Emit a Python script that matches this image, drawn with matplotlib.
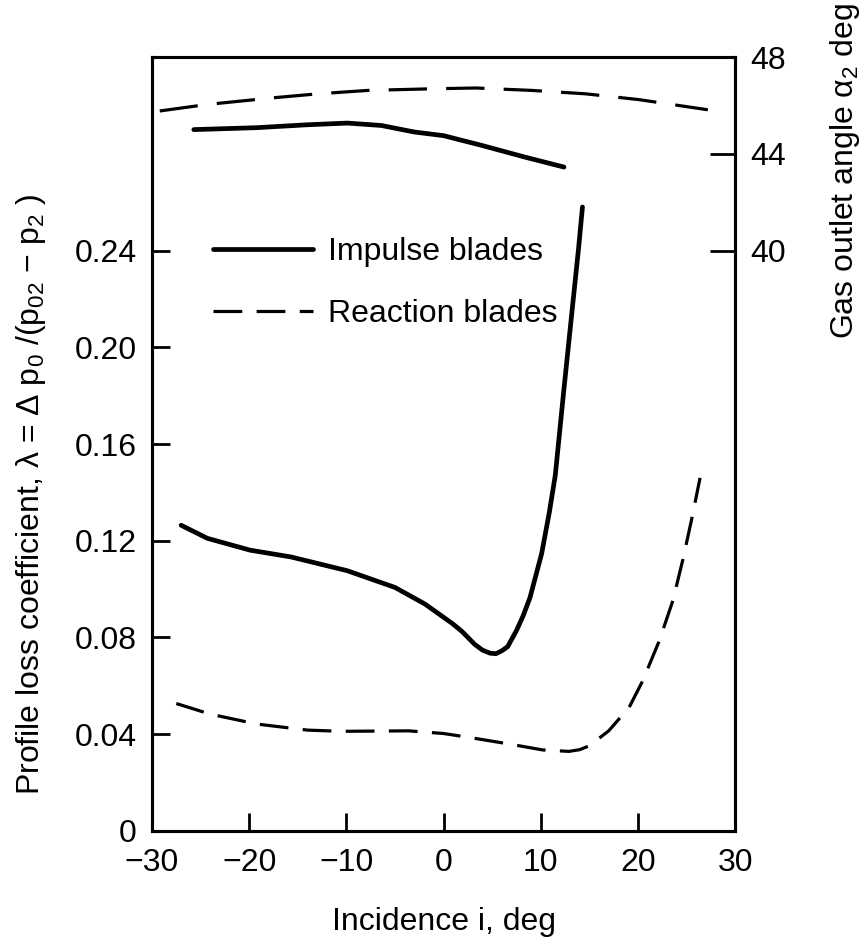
import matplotlib
matplotlib.use('Agg')
import matplotlib.pyplot as plt

# values
impulse_loss_x = [-27.0, -24.3, -19.9, -15.7, -9.9, -5.0, -1.9, 0.9, 1.9, 3.2, 4.0, 4.8, 5.4, 6.0, 6.6, 7.5, 8.2, 8.9, 10.1, 10.9, 11.5, 12.4, 13.2, 13.9, 14.3]
impulse_loss = [0.1264, 0.1210, 0.1161, 0.1133, 0.1076, 0.1007, 0.0938, 0.0858, 0.0825, 0.0772, 0.0748, 0.0735, 0.0733, 0.0745, 0.0762, 0.0828, 0.089, 0.0965, 0.1147, 0.132, 0.147, 0.183, 0.214, 0.241, 0.258]

reaction_loss_x = [-27.5, -24.0, -19.2, -14.0, -10.5, -3.6, 0.0, 2.6, 6.7, 10.2, 12.9, 14.0, 15.0, 17.0, 19.1, 20.5, 22.2, 23.6, 24.6, 25.5, 26.4]
reaction_loss = [0.0527, 0.0483, 0.0442, 0.0417, 0.0412, 0.0414, 0.0403, 0.0387, 0.036, 0.0335, 0.0329, 0.0336, 0.0352, 0.0414, 0.0511, 0.0621, 0.0786, 0.0952, 0.1117, 0.1282, 0.146]

impulse_angle_x = [-25.7, -19.2, -14.0, -9.9, -6.4, -3.0, 0.0, 3.9, 8.4, 12.4]
impulse_angle = [45.0, 45.08, 45.2, 45.27, 45.17, 44.9, 44.75, 44.35, 43.86, 43.45]

reaction_angle_x = [-29.2, -24.3, -17.4, -12.9, -7.8, -0.9, 3.3, 9.1, 14.6, 20.1, 27.2]
reaction_angle = [45.77, 46.04, 46.32, 46.48, 46.62, 46.69, 46.72, 46.62, 46.48, 46.24, 45.82]

xticks = [-30, -20, -10, 0, 10, 20, 30]
yticks = [0, 0.04, 0.08, 0.12, 0.16, 0.20, 0.24]
ytick_labels = ['0', '0.04', '0.08', '0.12', '0.16', '0.20', '0.24']
angle_ticks = [40, 44, 48]

plt.rcParams['font.family'] = ['Liberation Sans', 'DejaVu Sans']
plt.rcParams['font.size'] = 23
plt.rcParams['mathtext.fontset'] = 'custom'
plt.rcParams['mathtext.rm'] = 'Liberation Sans'
plt.rcParams['mathtext.it'] = 'Liberation Sans:italic'
plt.rcParams['mathtext.bf'] = 'Liberation Sans:bold'
plt.rcParams['axes.linewidth'] = 2.2

fig = plt.figure(figsize=(8.67, 9.46), dpi=100)
ax = fig.add_axes([0.1753, 0.1216, 0.6725, 0.8181])
ax2 = ax.twinx()

ax.plot(impulse_loss_x, impulse_loss, color='black', lw=3.4, solid_capstyle='round', label='Impulse blades')
ax.plot(reaction_loss_x, reaction_loss, color='black', lw=2.3, dashes=(9, 4.5), label='Reaction blades')
ax2.plot(impulse_angle_x, impulse_angle, color='black', lw=3.4, solid_capstyle='round')
ax2.plot(reaction_angle_x, reaction_angle, color='black', lw=2.3, dashes=(12, 6))

ax.set_xlim(-30, 30)
ax.set_ylim(0, 0.32)
ax2.set_ylim(16, 48)

ax.set_xticks(xticks)
ax.set_yticks(yticks)
ax.set_yticklabels(ytick_labels)
ax2.set_yticks(angle_ticks)

ax.tick_params(axis='x', direction='in', length=13, width=2, pad=12, top=False)
ax.tick_params(axis='y', direction='in', length=13, width=2, pad=11, right=False)
ax2.tick_params(axis='y', direction='in', length=18, width=2, pad=11)

ax.set_xlabel('Incidence i, deg', labelpad=21)
ax.set_ylabel('Profile loss coefficient, λ = Δ p$_0$ /(p$_{02}$ − p$_2$ )')
ax.yaxis.set_label_coords(-0.178, 0.435)
fig.text(0.975, 0.997, 'Gas outlet angle α$_2$ deg', rotation=90, ha='center', va='top')

ax.legend(loc='upper left', bbox_to_anchor=(0.105, 0.767), frameon=False,
          borderpad=0, borderaxespad=0, handlelength=3.13, handletextpad=0.47,
          labelspacing=1.0)

fig.savefig('out.png', dpi=100)
